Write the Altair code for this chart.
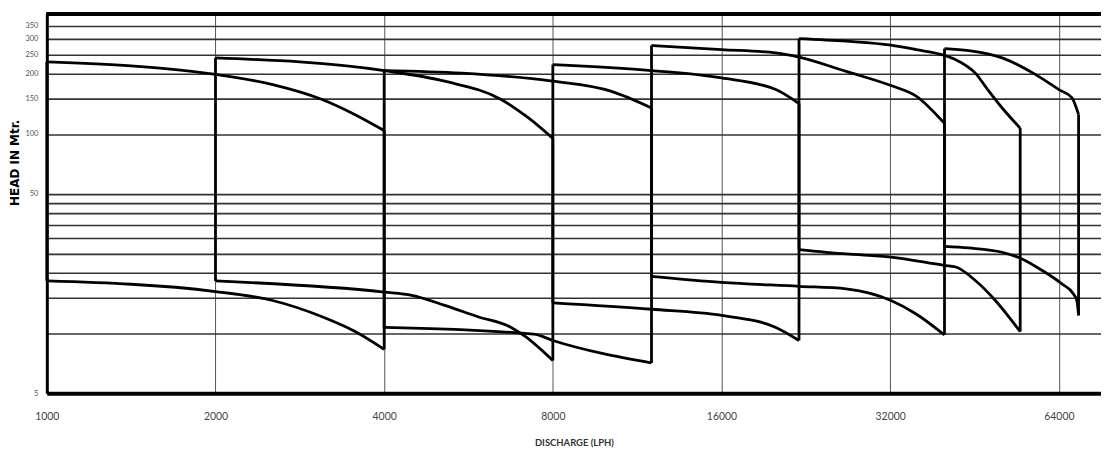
import altair as alt
import pandas as pd

# Axis values
x_ticks = [1000, 2000, 4000, 8000, 16000, 32000, 64000]
y_grid = [5, 10, 15, 20, 25, 30, 35, 40, 45, 50, 100, 150, 200, 250, 300, 350]
y_labelled = [5, 50, 100, 150, 200, 250, 300, 350]

# Pump model curves (discharge LPH, head m): upper and lower curves
m1_up_q = [1000, 2000, 2530, 3100, 3550, 4000]
m1_up_h = [230, 199, 177, 149, 125, 104]
m1_lo_q = [1000, 2000, 2530, 3100, 3550, 4000]
m1_lo_h = [18.3, 16.2, 14.6, 12.1, 10.2, 8.3]

m2_up_q = [2000, 4000, 5130, 6470, 7220, 8000]
m2_up_h = [241, 208, 184, 149, 121, 95]
m2_lo_q = [2000, 4000, 4480, 5130, 5880, 6740, 7120, 8000]
m2_lo_h = [18.3, 16.1, 15.5, 13.8, 12.1, 10.7, 9.7, 7.3]

m3_up_q = [4000, 5500, 8000, 10150, 12000]
m3_up_h = [208, 202, 184, 164, 135]
m3_lo_q = [4000, 7400, 8000, 12000]
m3_lo_h = [10.7, 9.9, 9.2, 7.1]

m4_up_q = [8000, 12000, 16000, 20000, 22000]
m4_up_h = [223, 208, 191, 167, 142]
m4_lo_q = [8000, 12000, 16000, 20000, 22000]
m4_lo_h = [14.2, 13.2, 12.3, 10.7, 9.2]

m5_up_q = [12000, 16000, 20000, 22000, 26700, 32100, 35600, 40000]
m5_up_h = [278, 265, 255, 243, 206, 175, 155, 113]
m5_lo_q = [12000, 16000, 22000, 26700, 32100, 35600, 40000]
m5_lo_h = [19.3, 18.0, 17.2, 16.7, 14.6, 12.5, 9.8]

m6_up_q = [22000, 26700, 32100, 35600, 40000, 41900, 45400, 48000, 50700, 54600]
m6_up_h = [301, 292, 279, 265, 248, 236, 202, 164, 135, 107]
m6_lo_q = [22000, 26700, 32100, 40000, 41900, 45400, 49300, 52100, 54600]
m6_lo_h = [26.3, 25.0, 24.1, 21.9, 21.5, 18.4, 14.6, 12.1, 10.2]

m7_up_q = [40000, 44200, 50700, 58100, 64000, 67500, 69400]
m7_up_h = [268, 262, 241, 199, 167, 152, 125]
m7_lo_q = [40000, 44200, 50700, 55000, 59700, 64800, 67900, 68900, 69400]
m7_lo_h = [27.3, 26.8, 25.5, 23.6, 20.7, 17.7, 15.8, 14.6, 12.3]

models = [
    (m1_up_q, m1_up_h, m1_lo_q, m1_lo_h),
    (m2_up_q, m2_up_h, m2_lo_q, m2_lo_h),
    (m3_up_q, m3_up_h, m3_lo_q, m3_lo_h),
    (m4_up_q, m4_up_h, m4_lo_q, m4_lo_h),
    (m5_up_q, m5_up_h, m5_lo_q, m5_lo_h),
    (m6_up_q, m6_up_h, m6_lo_q, m6_lo_h),
    (m7_up_q, m7_up_h, m7_lo_q, m7_lo_h),
]

rows = []
verts = []
for i, (uq, uh, lq, lh) in enumerate(models):
    for q, h in zip(uq, uh):
        rows.append({"series": f"M{i + 1}-up", "q": q, "h": h})
    for q, h in zip(lq, lh):
        rows.append({"series": f"M{i + 1}-lo", "q": q, "h": h})
    # left and right closing edges of each model's band
    verts.append({"q": uq[0], "h": uh[0], "h2": lh[0]})
    verts.append({"q": uq[-1], "h": uh[-1], "h2": lh[-1]})
df = pd.DataFrame(rows)
dv = pd.DataFrame(verts)

label_test = " || ".join(f"datum.value == {v}" for v in y_labelled)

x_scale = alt.Scale(type="log", domain=[1000, 76100], nice=False)
y_scale = alt.Scale(type="log", domain=[5, 400], nice=False)

x_enc = alt.X(
    "q:Q",
    scale=x_scale,
    axis=alt.Axis(
        values=x_ticks, format="d", grid=True, gridColor="#555", gridWidth=1,
        domainColor="black", domainWidth=4, ticks=False, labelPadding=18,
        labelFlush=False,
        labelFont="Lato", labelFontSize=10.5, labelColor="#444",
        title="DISCHARGE (LPH)", titleFont="Lato", titleFontSize=9.5,
        titleFontWeight="bold", titleColor="#333", titlePadding=16,
    ),
)
y_enc = alt.Y(
    "h:Q",
    scale=y_scale,
    axis=alt.Axis(
        values=y_grid, format="d", grid=True, gridColor="#333", gridWidth=1.6,
        domainColor="black", domainWidth=3, ticks=False, labelPadding=9,
        labelFlush=False,
        labelExpr=f"({label_test}) ? datum.label : ''",
        labelFont="Lato", labelFontSize=7.5, labelColor="#555",
        title="HEAD IN Mtr.", titleFont="DejaVu Sans", titleFontSize=12,
        titleFontWeight="bold", titleColor="black", titleX=-32, titleY=149,
        titleAngle=270, titleBaseline="middle",
    ),
)

curves = alt.Chart(df).mark_line(
    color="black", strokeWidth=2.8, interpolate="monotone"
).encode(x=x_enc, y=y_enc, detail="series:N")

edges = alt.Chart(dv).mark_rule(color="black", strokeWidth=2.8).encode(
    x="q:Q", y="h:Q", y2="h2:Q"
)

top = alt.Chart(dv).mark_rule(color="black", strokeWidth=3).encode(
    y=alt.datum(400)
)

chart = alt.layer(curves, edges, top).properties(
    width=1059, height=381,
    padding={"left": 39, "top": 5, "right": 0, "bottom": 60},
    autosize="none",
    background="white",
).configure_view(stroke=None)

chart.save("out.html", embed_options={"renderer": "svg", "actions": False})
